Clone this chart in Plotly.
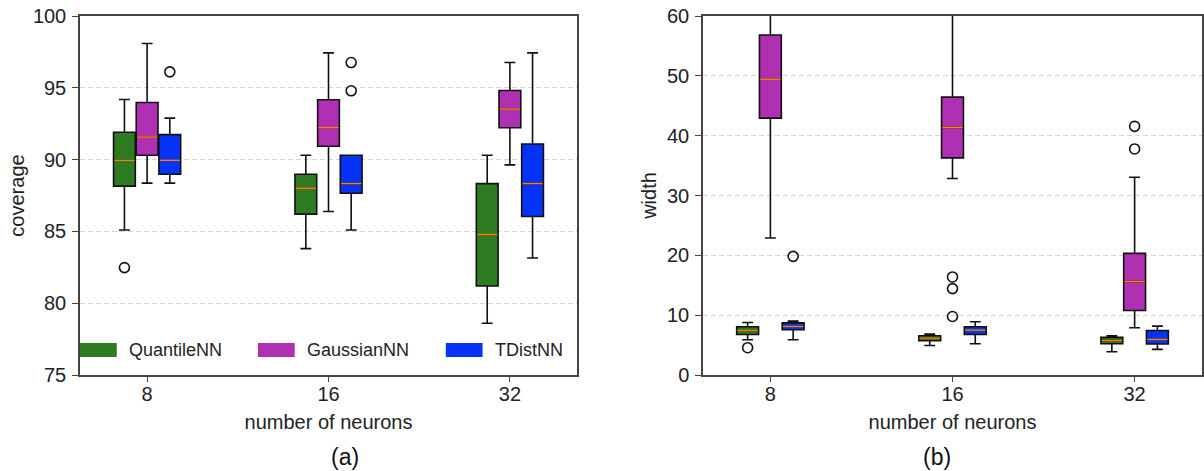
import plotly.graph_objects as go
from plotly.subplots import make_subplots

neurons = ["8", "16", "32"]
methods = ["QuantileNN", "GaussianNN", "TDistNN"]
colors = ["#2E7B22", "#B030B3", "#0533F7"]
median_color = "#FF7F0E"

# coverage box statistics, indexed [method][neuron group]
cov_lower = [[85.1, 83.8, 78.6], [88.36, 86.39, 89.63], [88.36, 85.1, 83.15]]
cov_q1 = [[88.15, 86.2, 81.2], [90.3, 90.93, 92.22], [88.98, 87.66, 86.04]]
cov_median = [[89.95, 88.01, 84.77], [91.57, 92.22, 93.52], [89.95, 88.33, 88.33]]
cov_q3 = [[91.9, 88.98, 88.33], [93.98, 94.17, 94.81], [91.74, 90.3, 91.09]]
cov_upper = [[94.19, 90.3, 90.3], [98.08, 97.43, 96.76], [92.89, 90.3, 97.43]]
cov_out_method = [0, 2, 2, 2]
cov_out_group = [0, 0, 1, 1]
cov_out_value = [82.48, 96.11, 96.76, 94.79]

# width box statistics, indexed [method][neuron group]
wid_lower = [[5.89, 4.94, 3.89], [22.89, 32.83, 7.89], [5.89, 5.22, 4.28]]
wid_q1 = [[6.78, 5.72, 5.22], [42.94, 36.28, 10.78], [7.56, 6.78, 5.17]]
wid_median = [[7.44, 6.17, 5.78], [49.44, 41.39, 15.61], [8.11, 7.5, 5.94]]
wid_q3 = [[8.06, 6.56, 6.28], [56.83, 46.44, 20.33], [8.72, 8.06, 7.44]]
wid_upper = [[8.78, 6.83, 6.56], [72.0, 68.0, 33.06], [9.0, 8.89, 8.17]]
wid_out_method = [0, 2, 1, 1, 1, 1, 1]
wid_out_group = [0, 0, 1, 1, 1, 2, 2]
wid_out_value = [4.56, 19.83, 16.39, 14.44, 9.78, 41.56, 37.78]

offsets = [-0.125, 0.0, 0.125]
box_w = 0.12
FONT = "Liberation Sans, Arial, sans-serif"
AXC = "#444444"

fig = make_subplots(rows=1, cols=2)


def add_panel(col, lower, q1, med, q3, upper, om, og, ov):
    for mi, name in enumerate(methods):
        for gi in range(len(neurons)):
            pos = gi + 1 + offsets[mi]
            fig.add_trace(go.Box(
                x=[pos], q1=[q1[mi][gi]], median=[med[mi][gi]], q3=[q3[mi][gi]],
                lowerfence=[lower[mi][gi]], upperfence=[upper[mi][gi]],
                width=box_w, whiskerwidth=0.5, fillcolor=colors[mi],
                line=dict(color="#111111", width=1.6), boxpoints=False,
                showlegend=False, hoverinfo="skip"), row=1, col=col)
            fig.add_trace(go.Scatter(
                x=[pos - box_w / 2 + 0.004, pos + box_w / 2 - 0.004],
                y=[med[mi][gi], med[mi][gi]], mode="lines",
                line=dict(color=median_color, width=1.5),
                showlegend=False, hoverinfo="skip"), row=1, col=col)
    xs = [og[i] + 1 + offsets[om[i]] for i in range(len(ov))]
    fig.add_trace(go.Scatter(
        x=xs, y=ov, mode="markers",
        marker=dict(symbol="circle-open", size=10, color="#111111",
                    line=dict(width=1.6, color="#111111")),
        showlegend=False, hoverinfo="skip"), row=1, col=col)


add_panel(1, cov_lower, cov_q1, cov_median, cov_q3, cov_upper,
          cov_out_method, cov_out_group, cov_out_value)
add_panel(2, wid_lower, wid_q1, wid_median, wid_q3, wid_upper,
          wid_out_method, wid_out_group, wid_out_value)

W, H = 1204, 471
ydom = [1 - 375 / H, 1 - 16 / H]
xdom1 = [80 / W, 577 / W]
xdom2 = [703 / W, 1202 / W]

xcommon = dict(range=[0.63, 3.37], tickmode="array", tickvals=[1, 2, 3],
               ticktext=neurons, ticks="outside", ticklen=5, tickwidth=1.3,
               tickcolor=AXC, showline=True, linecolor=AXC, linewidth=1.5,
               mirror=True, showgrid=False, zeroline=False, automargin=False,
               ticklabelstandoff=-5, ticklabeloverflow="allow",
               tickfont=dict(size=20, color="#222222"),
               title=dict(text="number of neurons", font=dict(size=20, color="#222222"),
                          standoff=11))
ycommon = dict(ticks="outside", ticklen=6, tickwidth=1.3, tickcolor=AXC,
               showline=True, linecolor=AXC, linewidth=1.5, mirror=True,
               showgrid=True, gridcolor="#d6d6d6", gridwidth=1, griddash="5px,3px",
               zeroline=False, automargin=False, ticklabelstandoff=2,
               ticklabeloverflow="allow",
               tickfont=dict(size=20, color="#222222"))

fig.update_layout(
    xaxis=dict(domain=xdom1, **xcommon),
    xaxis2=dict(domain=xdom2, **xcommon),
    yaxis=dict(domain=ydom, range=[75, 100], tickmode="linear", tick0=75, dtick=5,
               title=dict(text="coverage", font=dict(size=20, color="#222222"), standoff=3),
               **ycommon),
    yaxis2=dict(domain=ydom, range=[0, 60], tickmode="linear", tick0=0, dtick=10,
                title=dict(text="width", font=dict(size=20, color="#222222"), standoff=5),
                **ycommon),
    width=W, height=H, margin=dict(l=0, r=0, t=0, b=0, autoexpand=False),
    paper_bgcolor="white", plot_bgcolor="white",
    font=dict(family=FONT, color="#222222"),
    showlegend=False,
)

# legend drawn as patches inside the left panel
leg_x = [0.0, 0.358, 0.736]
shapes = []
annotations = []
for mi, name in enumerate(methods):
    shapes.append(dict(type="rect", xref="x domain", yref="y domain",
                       x0=leg_x[mi], x1=leg_x[mi] + 0.074, y0=0.050, y1=0.089,
                       fillcolor=colors[mi], line=dict(width=0)))
    annotations.append(dict(xref="x domain", yref="y domain", x=leg_x[mi] + 0.095,
                            y=0.0695, text=name, showarrow=False, xanchor="left",
                            yanchor="middle", font=dict(size=18, color="#222222")))

annotations.append(dict(xref="paper", yref="paper", x=(xdom1[0] + xdom1[1]) / 2,
                        y=1 - 457 / H, text="(a)", showarrow=False, yanchor="middle",
                        font=dict(size=23, color="#111111")))
annotations.append(dict(xref="paper", yref="paper", x=(xdom2[0] + xdom2[1]) / 2,
                        y=1 - 457 / H, text="(b)", showarrow=False, yanchor="middle",
                        font=dict(size=23, color="#111111")))
fig.update_layout(shapes=shapes, annotations=annotations)

fig.write_html("out.html", config={"displayModeBar": False},
               post_script="document.body.style.margin='0';document.body.style.overflow='hidden';")
